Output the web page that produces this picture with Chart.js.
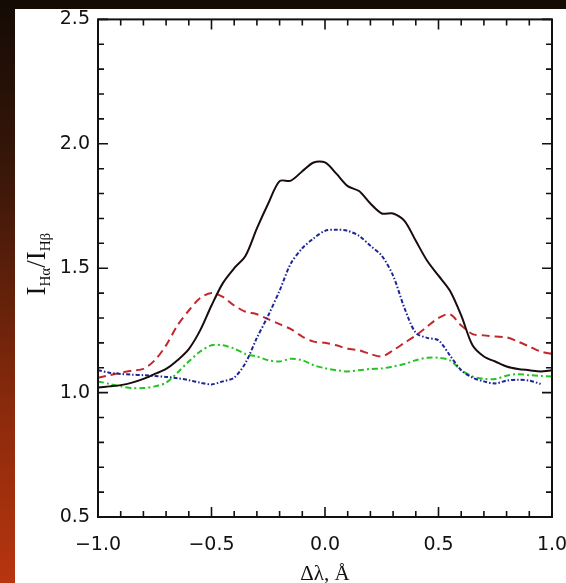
<!DOCTYPE html>
<html lang="en">
<head>
  <meta charset="UTF-8">
  <title>Line ratio profiles</title>
  <script src="https://cdn.jsdelivr.net/npm/chart.js"></script>
  <style>
    html, body { margin: 0; padding: 0; overflow: hidden; }
    body {
      width: 566px; height: 583px; position: relative;
      background: linear-gradient(to bottom, #140b05 0%, #3a1709 30%, #8a2a0c 70%, #b8350f 100%);
    }
    #panel { position: absolute; left: 15px; top: 9px; width: 551px; height: 574px; background: #fff; }
    #wrap { position: absolute; left: 15px; top: 0; width: 580px; height: 600px; }
  </style>
</head>
<body>
<div id="panel"></div>
<div id="wrap"><canvas id="myChart"></canvas></div>

<script>
  // wavelength offset, Angstrom
  const dLambda = [-1.00, -0.95, -0.90, -0.85, -0.80, -0.75, -0.70, -0.65, -0.60, -0.55,
                   -0.50, -0.45, -0.40, -0.35, -0.30, -0.25, -0.20, -0.15, -0.10, -0.05,
                    0.00,  0.05,  0.10,  0.15,  0.20,  0.25,  0.30,  0.35,  0.40,  0.45,
                    0.50,  0.55,  0.60,  0.65,  0.70,  0.75,  0.80,  0.85,  0.90,  0.95, 1.00];

  const blackRatio = [1.02, 1.025, 1.03, 1.04, 1.055, 1.075, 1.095, 1.13, 1.175, 1.25,
                      1.35, 1.44, 1.50, 1.55, 1.66, 1.76, 1.85, 1.852, 1.89, 1.925,
                      1.925, 1.88, 1.83, 1.81, 1.76, 1.72, 1.72, 1.69, 1.61, 1.53,
                      1.47, 1.41, 1.31, 1.19, 1.145, 1.125, 1.105, 1.095, 1.09, 1.085, 1.09];

  const blueRatio = [1.09, 1.08, 1.075, 1.072, 1.07, 1.067, 1.063, 1.058, 1.05, 1.04,
                     1.033, 1.045, 1.06, 1.12, 1.22, 1.31, 1.41, 1.52, 1.58, 1.62,
                     1.65, 1.655, 1.65, 1.63, 1.59, 1.55, 1.47, 1.34, 1.24, 1.22,
                     1.21, 1.15, 1.09, 1.06, 1.045, 1.037, 1.048, 1.052, 1.048, 1.035, null];

  const redRatio = [1.06, 1.07, 1.08, 1.088, 1.095, 1.13, 1.19, 1.27, 1.33, 1.38,
                    1.40, 1.385, 1.35, 1.325, 1.315, 1.295, 1.275, 1.255, 1.225, 1.205,
                    1.20, 1.19, 1.176, 1.17, 1.155, 1.145, 1.17, 1.20, 1.23, 1.265,
                    1.30, 1.315, 1.27, 1.235, 1.23, 1.225, 1.222, 1.205, 1.185, 1.165, 1.155];

  const greenRatio = [1.045, 1.035, 1.025, 1.018, 1.018, 1.025, 1.04, 1.08, 1.125, 1.165,
                      1.19, 1.19, 1.177, 1.155, 1.145, 1.13, 1.125, 1.136, 1.13, 1.11,
                      1.098, 1.09, 1.085, 1.09, 1.095, 1.097, 1.105, 1.115, 1.13, 1.14,
                      1.14, 1.13, 1.09, 1.065, 1.055, 1.055, 1.068, 1.074, 1.07, 1.067, 1.065];

  function toPoints(ys) {
    return dLambda.map((x, i) => ({ x: x, y: ys[i] })).filter(p => p.y !== null);
  }

  function fmt(v) {
    const s = Math.abs(v).toFixed(1);
    return v < -1e-9 ? '\u2212' + s : s;
  }

  // inward ticks on all four sides plus the box
  const frame = {
    id: 'frame',
    afterDraw(chart) {
      const ctx = chart.ctx, a = chart.chartArea;
      const xs = chart.scales.x, ys = chart.scales.y;
      ctx.save();
      ctx.strokeStyle = '#111';
      ctx.lineWidth = 1.6;
      ctx.beginPath();
      for (let i = 0; i <= 20; i++) {
        const v = -1 + i * 0.1;
        const p = xs.getPixelForValue(v);
        const len = (i % 5 === 0) ? 10 : 6;
        ctx.moveTo(p, a.bottom); ctx.lineTo(p, a.bottom - len);
        ctx.moveTo(p, a.top); ctx.lineTo(p, a.top + len);
      }
      for (let i = 0; i <= 20; i++) {
        const v = 0.5 + i * 0.1;
        const p = ys.getPixelForValue(v);
        const len = (i % 5 === 0) ? 10 : 6;
        ctx.moveTo(a.left, p); ctx.lineTo(a.left + len, p);
        ctx.moveTo(a.right, p); ctx.lineTo(a.right - len, p);
      }
      ctx.stroke();
      ctx.lineWidth = 2;
      ctx.strokeRect(a.left, a.top, a.right - a.left, a.bottom - a.top);

      // y title with subscripts
      ctx.translate(22, (a.top + a.bottom) / 2 - 4);
      ctx.rotate(-Math.PI / 2);
      ctx.fillStyle = '#111';
      ctx.textBaseline = 'alphabetic';
      const big = '27px "Liberation Serif"', small = '15px "Liberation Serif"';
      const parts = [['I', big, 0], ['H\u03b1', small, 5], ['/', big, 0], ['I', big, 0], ['H\u03b2', small, 5]];
      let w = 0;
      parts.forEach(p => { ctx.font = p[1]; w += ctx.measureText(p[0]).width; });
      let x = -w / 2;
      parts.forEach(p => {
        ctx.font = p[1];
        ctx.fillText(p[0], x, 8 + p[2]);
        x += ctx.measureText(p[0]).width;
      });
      ctx.restore();
    }
  };

  const ctx = document.getElementById('myChart').getContext('2d');

  const myChart = new Chart(ctx, {
    type: 'scatter',
    data: {
      datasets: [
        {
          label: 'black',
          data: toPoints(blackRatio),
          borderColor: '#1a0c0c',
          borderWidth: 2
        },
        {
          label: 'blue',
          data: toPoints(blueRatio),
          borderColor: '#1d2596',
          borderWidth: 2,
          borderDash: [4, 2, 1.5, 2]
        },
        {
          label: 'red',
          data: toPoints(redRatio),
          borderColor: '#c3272b',
          borderWidth: 2,
          borderDash: [8, 5]
        },
        {
          label: 'green',
          data: toPoints(greenRatio),
          borderColor: '#24c424',
          borderWidth: 2,
          borderDash: [6, 3, 2, 3]
        }
      ]
    },
    options: {
      responsive: true,
      maintainAspectRatio: false,
      animation: false,
      showLine: true,
      elements: {
        point: { radius: 0, hoverRadius: 0 },
        line: { tension: 0.3, fill: false }
      },
      layout: { padding: { top: 14, right: 43, left: 0, bottom: 0 } },
      plugins: {
        legend: { display: false },
        tooltip: { enabled: false }
      },
      scales: {
        x: {
          type: 'linear',
          min: -1, max: 1,
          grid: { display: false, drawTicks: false },
          border: { display: false },
          ticks: {
            stepSize: 0.5,
            padding: 17,
            color: '#111',
            font: { family: 'DejaVu Sans', size: 19 },
            maxRotation: 0,
            callback: v => fmt(v)
          },
          title: {
            display: true,
            text: '\u0394\u03bb, \u00c5',
            color: '#111',
            font: { family: 'Liberation Serif', size: 21 },
            padding: { top: 2, bottom: 13 }
          },
          afterFit: s => { s.height = 83; }
        },
        y: {
          min: 0.5, max: 2.5,
          grid: { display: false, drawTicks: false },
          border: { display: false },
          ticks: {
            stepSize: 0.5,
            padding: 8,
            color: '#111',
            font: { family: 'DejaVu Sans', size: 19 },
            callback: v => fmt(v)
          },
          afterFit: s => { s.width = 83; }
        }
      }
    },
    plugins: [frame]
  });
</script>

</body>
</html>
